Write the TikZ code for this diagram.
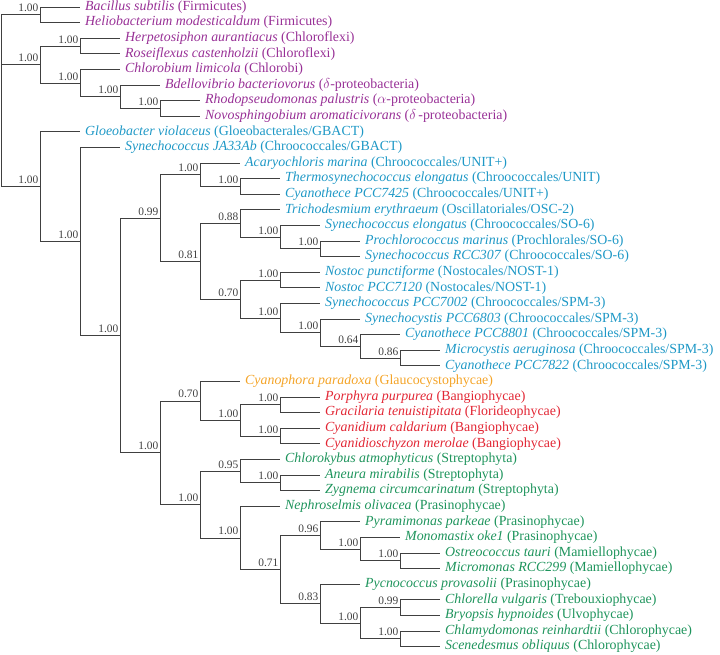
\documentclass[tikz,border=0pt]{standalone}
\usepackage{fontspec}
\setmainfont{Liberation Serif}
\usetikzlibrary{positioning}

\definecolor{bactpurple}{RGB}{152,48,150}
\definecolor{cyanoblue}{RGB}{30,152,198}
\definecolor{glauorange}{RGB}{244,164,40}
\definecolor{rhodored}{RGB}{226,38,52}
\definecolor{viridgreen}{RGB}{30,148,92}

\begin{document}
\begin{tikzpicture}[x=1pt,y=-1pt]

\tikzset{leaf/.style = {anchor=west, inner xsep=5pt, inner ysep=0pt, text height=9.2pt, text depth=2.6pt, font=\fontsize{13.9}{15}\selectfont}}
\tikzset{supp/.style = {anchor=base east, inner sep=0pt, xshift=-1.5pt, yshift=3pt, font=\fontsize{11.4}{12}\selectfont, text=black!75}}
\tikzset{branch/.style = {draw=black!75, line width=0.8pt}}

\useasboundingbox (0,0) rectangle (720,654);

% inner nodes
\coordinate (root) at (1.5,100.7);
\coordinate (f)   at (40,14.8);
\coordinate (b)   at (40,64.5);
\coordinate (cf)  at (80,46.0);
\coordinate (cb)  at (80,83.1);
\coordinate (bd)  at (120,96.7);
\coordinate (rn)  at (160,108.4);
\coordinate (c1)  at (40,186.6);
\coordinate (c2)  at (80,241.4);
\coordinate (c3)  at (120,335.3);
\coordinate (c4)  at (160,218.0);
\coordinate (a1)  at (200,174.7);
\coordinate (t1)  at (240,186.4);
\coordinate (c5)  at (200,261.2);
\coordinate (s1)  at (240,223.5);
\coordinate (s2)  at (280,237.1);
\coordinate (s3)  at (320,248.8);
\coordinate (n0)  at (240,299.0);
\coordinate (n1)  at (280,280.0);
\coordinate (n2)  at (280,318.0);
\coordinate (n3)  at (320,332.7);
\coordinate (n4)  at (360,346.3);
\coordinate (n5)  at (400,358.0);
\coordinate (p1)  at (160,452.7);
\coordinate (r0)  at (200,400.9);
\coordinate (r1)  at (240,420.4);
\coordinate (r2)  at (280,404.8);
\coordinate (r3)  at (280,436.0);
\coordinate (g0)  at (200,504.5);
\coordinate (g1)  at (240,471.1);
\coordinate (g2)  at (280,482.8);
\coordinate (g3)  at (240,537.9);
\coordinate (g4)  at (280,569.6);
\coordinate (g5)  at (320,535.5);
\coordinate (g6)  at (360,549.1);
\coordinate (g7)  at (400,560.8);
\coordinate (g8)  at (320,603.7);
\coordinate (g9)  at (360,623.2);
\coordinate (g10) at (400,607.6);
\coordinate (g11) at (400,638.8);

% support values
\node[supp] (fv)   at (f)   {1.00};
\node[supp] (bv)   at (b)   {1.00};
\node[supp] (cfv)  at (cf)  {1.00};
\node[supp] (cbv)  at (cb)  {1.00};
\node[supp] (bdv)  at (bd)  {1.00};
\node[supp] (rnv)  at (rn)  {1.00};
\node[supp] (c1v)  at (c1)  {1.00};
\node[supp] (c2v)  at (c2)  {1.00};
\node[supp] (c3v)  at (c3)  {1.00};
\node[supp] (c4v)  at (c4)  {0.99};
\node[supp] (a1v)  at (a1)  {1.00};
\node[supp] (t1v)  at (t1)  {1.00};
\node[supp] (c5v)  at (c5)  {0.81};
\node[supp] (s1v)  at (s1)  {0.88};
\node[supp] (s2v)  at (s2)  {1.00};
\node[supp] (s3v)  at (s3)  {1.00};
\node[supp] (n0v)  at (n0)  {0.70};
\node[supp] (n1v)  at (n1)  {1.00};
\node[supp] (n2v)  at (n2)  {1.00};
\node[supp] (n3v)  at (n3)  {1.00};
\node[supp] (n4v)  at (n4)  {0.64};
\node[supp] (n5v)  at (n5)  {0.86};
\node[supp] (p1v)  at (p1)  {1.00};
\node[supp] (r0v)  at (r0)  {0.70};
\node[supp] (r1v)  at (r1)  {1.00};
\node[supp] (r2v)  at (r2)  {1.00};
\node[supp] (r3v)  at (r3)  {1.00};
\node[supp] (g0v)  at (g0)  {1.00};
\node[supp] (g1v)  at (g1)  {0.95};
\node[supp] (g2v)  at (g2)  {1.00};
\node[supp] (g3v)  at (g3)  {1.00};
\node[supp] (g4v)  at (g4)  {0.71};
\node[supp] (g5v)  at (g5)  {0.96};
\node[supp] (g6v)  at (g6)  {1.00};
\node[supp] (g7v)  at (g7)  {1.00};
\node[supp] (g8v)  at (g8)  {0.83};
\node[supp] (g9v)  at (g9)  {1.00};
\node[supp] (g10v) at (g10) {0.99};
\node[supp] (g11v) at (g11) {1.00};

% leaves
\node[leaf, text=bactpurple] (bsub) at (80,7.0)   {\textit{Bacillus subtilis} (Firmicutes)};
\node[leaf, text=bactpurple] (hmod) at (80,22.6)  {\textit{Heliobacterium modesticaldum} (Firmicutes)};
\node[leaf, text=bactpurple] (haur) at (120,38.2) {\textit{Herpetosiphon aurantiacus} (Chloroflexi)};
\node[leaf, text=bactpurple] (rcas) at (120,53.8) {\textit{Roseiflexus castenholzii} (Chloroflexi)};
\node[leaf, text=bactpurple] (clim) at (120,69.4) {\textit{Chlorobium limicola} (Chlorobi)};
\node[leaf, text=bactpurple] (bbac) at (160,85.0) {\textit{Bdellovibrio bacteriovorus} ($\delta$-proteobacteria)};
\node[leaf, text=bactpurple] (rpal) at (200,100.6) {\textit{Rhodopseudomonas palustris} ($\alpha$-proteobacteria)};
\node[leaf, text=bactpurple] (naro) at (200,116.2) {\textit{Novosphingobium aromaticivorans} ($\delta$\,-proteobacteria)};
\node[leaf, text=cyanoblue] (gvio) at (80,131.8)  {\textit{Gloeobacter violaceus} (Gloeobacterales/GBACT)};
\node[leaf, text=cyanoblue] (sja)  at (120,147.4) {\textit{Synechococcus JA33Ab} (Chroococcales/GBACT)};
\node[leaf, text=cyanoblue] (amar) at (240,163.0) {\textit{Acaryochloris marina} (Chroococcales/UNIT+)};
\node[leaf, text=cyanoblue] (telo) at (280,178.6) {\textit{Thermosynechococcus elongatus} (Chroococcales/UNIT)};
\node[leaf, text=cyanoblue] (c7425) at (280,194.2) {\textit{Cyanothece PCC7425} (Chroococcales/UNIT+)};
\node[leaf, text=cyanoblue] (tery) at (280,209.8) {\textit{Trichodesmium erythraeum} (Oscillatoriales/OSC-2)};
\node[leaf, text=cyanoblue] (selo) at (320,225.4) {\textit{Synechococcus elongatus} (Chroococcales/SO-6)};
\node[leaf, text=cyanoblue] (pmar) at (360,241.0) {\textit{Prochlorococcus marinus} (Prochlorales/SO-6)};
\node[leaf, text=cyanoblue] (s307) at (360,256.6) {\textit{Synechococcus RCC307} (Chroococcales/SO-6)};
\node[leaf, text=cyanoblue] (npun) at (320,272.2) {\textit{Nostoc punctiforme} (Nostocales/NOST-1)};
\node[leaf, text=cyanoblue] (n7120) at (320,287.8) {\textit{Nostoc PCC7120} (Nostocales/NOST-1)};
\node[leaf, text=cyanoblue] (s7002) at (320,303.4) {\textit{Synechococcus PCC7002} (Chroococcales/SPM-3)};
\node[leaf, text=cyanoblue] (s6803) at (360,319.0) {\textit{Synechocystis PCC6803} (Chroococcales/SPM-3)};
\node[leaf, text=cyanoblue] (c8801) at (400,334.6) {\textit{Cyanothece PCC8801} (Chroococcales/SPM-3)};
\node[leaf, text=cyanoblue] (maer) at (440,350.2) {\textit{Microcystis aeruginosa} (Chroococcales/SPM-3)};
\node[leaf, text=cyanoblue] (c7822) at (440,365.8) {\textit{Cyanothece PCC7822} (Chroococcales/SPM-3)};
\node[leaf, text=glauorange] (cpar) at (240,381.4) {\textit{Cyanophora paradoxa} (Glaucocystophycae)};
\node[leaf, text=rhodored] (ppur) at (320,397.0) {\textit{Porphyra purpurea} (Bangiophycae)};
\node[leaf, text=rhodored] (gten) at (320,412.6) {\textit{Gracilaria tenuistipitata} (Florideophycae)};
\node[leaf, text=rhodored] (ccal) at (320,428.2) {\textit{Cyanidium caldarium} (Bangiophycae)};
\node[leaf, text=rhodored] (cmer) at (320,443.8) {\textit{Cyanidioschyzon merolae} (Bangiophycae)};
\node[leaf, text=viridgreen] (catm) at (280,459.4) {\textit{Chlorokybus atmophyticus} (Streptophyta)};
\node[leaf, text=viridgreen] (amir) at (320,475.0) {\textit{Aneura mirabilis} (Streptophyta)};
\node[leaf, text=viridgreen] (zcir) at (320,490.6) {\textit{Zygnema circumcarinatum} (Streptophyta)};
\node[leaf, text=viridgreen] (noli) at (280,506.2) {\textit{Nephroselmis olivacea} (Prasinophycae)};
\node[leaf, text=viridgreen] (ppar) at (360,521.8) {\textit{Pyramimonas parkeae} (Prasinophycae)};
\node[leaf, text=viridgreen] (moke) at (400,537.4) {\textit{Monomastix oke1} (Prasinophycae)};
\node[leaf, text=viridgreen] (otau) at (440,553.0) {\textit{Ostreococcus tauri} (Mamiellophycae)};
\node[leaf, text=viridgreen] (mrcc) at (440,568.6) {\textit{Micromonas RCC299} (Mamiellophycae)};
\node[leaf, text=viridgreen] (ppro) at (360,584.2) {\textit{Pycnococcus provasolii} (Prasinophycae)};
\node[leaf, text=viridgreen] (cvul) at (440,599.8) {\textit{Chlorella vulgaris} (Trebouxiophycae)};
\node[leaf, text=viridgreen] (bhyp) at (440,615.4) {\textit{Bryopsis hypnoides} (Ulvophycae)};
\node[leaf, text=viridgreen] (crei) at (440,631.0) {\textit{Chlamydomonas reinhardtii} (Chlorophycae)};
\node[leaf, text=viridgreen] (sobl) at (440,646.6) {\textit{Scenedesmus obliquus} (Chlorophycae)};

%edges
\draw[branch] (root) |- (f) (root) |- (b) (root) |- (c1);
\draw[branch] (f) |- (bsub.west) (f) |- (hmod.west);
\draw[branch] (b) |- (cf) (b) |- (cb);
\draw[branch] (cf) |- (haur.west) (cf) |- (rcas.west);
\draw[branch] (cb) |- (clim.west) (cb) |- (bd);
\draw[branch] (bd) |- (bbac.west) (bd) |- (rn);
\draw[branch] (rn) |- (rpal.west) (rn) |- (naro.west);
\draw[branch] (c1) |- (gvio.west) (c1) |- (c2);
\draw[branch] (c2) |- (sja.west) (c2) |- (c3);
\draw[branch] (c3) |- (c4) (c3) |- (p1);
\draw[branch] (c4) |- (a1) (c4) |- (c5);
\draw[branch] (a1) |- (amar.west) (a1) |- (t1);
\draw[branch] (t1) |- (telo.west) (t1) |- (c7425.west);
\draw[branch] (c5) |- (s1) (c5) |- (n0);
\draw[branch] (s1) |- (tery.west) (s1) |- (s2);
\draw[branch] (s2) |- (selo.west) (s2) |- (s3);
\draw[branch] (s3) |- (pmar.west) (s3) |- (s307.west);
\draw[branch] (n0) |- (n1) (n0) |- (n2);
\draw[branch] (n1) |- (npun.west) (n1) |- (n7120.west);
\draw[branch] (n2) |- (s7002.west) (n2) |- (n3);
\draw[branch] (n3) |- (s6803.west) (n3) |- (n4);
\draw[branch] (n4) |- (c8801.west) (n4) |- (n5);
\draw[branch] (n5) |- (maer.west) (n5) |- (c7822.west);
\draw[branch] (p1) |- (r0) (p1) |- (g0);
\draw[branch] (r0) |- (cpar.west) (r0) |- (r1);
\draw[branch] (r1) |- (r2) (r1) |- (r3);
\draw[branch] (r2) |- (ppur.west) (r2) |- (gten.west);
\draw[branch] (r3) |- (ccal.west) (r3) |- (cmer.west);
\draw[branch] (g0) |- (g1) (g0) |- (g3);
\draw[branch] (g1) |- (catm.west) (g1) |- (g2);
\draw[branch] (g2) |- (amir.west) (g2) |- (zcir.west);
\draw[branch] (g3) |- (noli.west) (g3) |- (g4);
\draw[branch] (g4) |- (g5) (g4) |- (g8);
\draw[branch] (g5) |- (ppar.west) (g5) |- (g6);
\draw[branch] (g6) |- (moke.west) (g6) |- (g7);
\draw[branch] (g7) |- (otau.west) (g7) |- (mrcc.west);
\draw[branch] (g8) |- (ppro.west) (g8) |- (g9);
\draw[branch] (g9) |- (g10) (g9) |- (g11);
\draw[branch] (g10) |- (cvul.west) (g10) |- (bhyp.west);
\draw[branch] (g11) |- (crei.west) (g11) |- (sobl.west);

\end{tikzpicture}
\end{document}
